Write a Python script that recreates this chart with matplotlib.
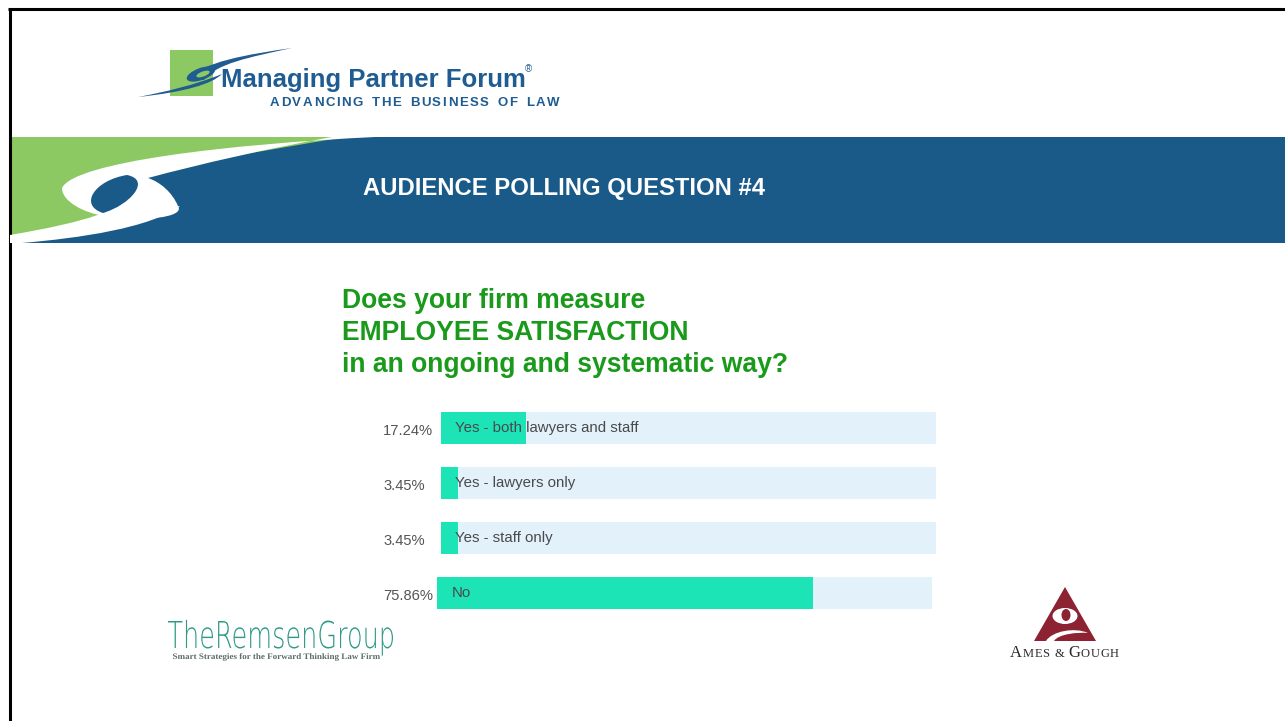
import numpy as np
import matplotlib
matplotlib.use("Agg")
import matplotlib.pyplot as plt
from matplotlib.path import Path
from matplotlib.patches import PathPatch, Rectangle, Ellipse
from matplotlib.textpath import TextPath
from matplotlib.font_manager import FontProperties
from matplotlib.transforms import Affine2D

plt.rcParams["font.family"] = ["Liberation Sans", "DejaVu Sans"]

W, H = 1285, 721

# poll results
answers = ["Yes - both lawyers and staff", "Yes - lawyers only", "Yes - staff only", "No"]
shares = [17.24, 3.45, 3.45, 75.86]

header = "AUDIENCE POLLING QUESTION #4"
question = ["Does your firm measure", "EMPLOYEE SATISFACTION", "in an ongoing and systematic way?"]

BLUE = "#195a89"
BAND_GREEN = "#8dc963"
LOGO_BLUE = "#1f5c92"
Q_GREEN = "#1a9a1a"
BAR = "#1ce4b6"
TRACK = "#e3f1fb"
MAROON = "#8c2232"
TEAL = "#2e9a86"


def shape(start, segs):
    """Closed path; a segment is a point (line) or three points (cubic)."""
    verts, codes = [start], [Path.MOVETO]
    for s in segs:
        if isinstance(s[0], tuple):
            verts += list(s)
            codes += [Path.CURVE4] * 3
        else:
            verts.append(s)
            codes.append(Path.LINETO)
    verts.append(start)
    codes.append(Path.CLOSEPOLY)
    return Path(verts, codes)


def fill(ax, path, color, z=1):
    ax.add_patch(PathPatch(path, fc=color, ec="none", lw=0, zorder=z))


def fit_text(ax, s, x0, x1, baseline, cap_h, prop, color, z=3):
    # text outline squeezed into a given width and cap height
    tp = TextPath((0, 0), s, size=100, prop=prop)
    ext = tp.get_extents()
    cap = TextPath((0, 0), "H", size=100, prop=prop).get_extents().height
    tr = Affine2D().translate(-ext.x0, 0).scale((x1 - x0) / ext.width, -cap_h / cap).translate(x0, baseline)
    fill(ax, tr.transform_path(tp), color, z)


def runs_text(ax, runs, x, y, renderer, tracking=0.0, gap=6, **kw):
    # left-to-right pieces of text with their own sizes and extra letter spacing
    for chunk, size in runs:
        for ch in chunk:
            if ch == " ":
                x += gap
                continue
            t = ax.text(x, y, ch, fontsize=size, va="baseline", ha="left", **kw)
            x += t.get_window_extent(renderer).width + tracking
    return x


fig = plt.figure(figsize=(12.85, 7.21), dpi=100)
renderer = fig.canvas.get_renderer()
bg = fig.add_axes([0, 0, 1, 1])
bg.set_xlim(0, W)
bg.set_ylim(H, 0)
bg.axis("off")

# frame
bg.plot([9.5, 9.5], [H, 8], color="black", lw=2.2, solid_capstyle="butt")
bg.plot([8, W], [8.5, 8.5], color="black", lw=2.2, solid_capstyle="butt")

# top logo
bg.add_patch(Rectangle((170, 50), 43, 46, fc=BAND_GREEN, ec="none"))
fill(bg, shape((138, 97), [((165, 92), (195, 85), (222, 74)), ((212, 84), (185, 92), (138, 97))]), LOGO_BLUE, 2)
fill(bg, shape((188, 80), [((200, 62), (250, 54), (292, 48)), ((250, 57), (215, 64), (204, 80))]), LOGO_BLUE, 2)
bg.add_patch(Ellipse((201, 74), 30, 12, angle=-20, fc=LOGO_BLUE, ec="none", zorder=2))
bg.add_patch(Ellipse((203, 74), 14, 5, angle=-20, fc=BAND_GREEN, ec="none", zorder=2))
bg.text(221, 86.5, "Managing Partner Forum", fontsize=18.5, weight="bold", color=LOGO_BLUE, va="baseline")
bg.text(525, 72, "®", fontsize=7, color=LOGO_BLUE, va="baseline")
runs_text(bg, [("ADVANCING THE BUSINESS OF LAW", 9.5)], 270, 106, renderer,
          tracking=1.6, gap=7, weight="bold", color=LOGO_BLUE)

# banner with the swoosh on the left
bg.add_patch(Rectangle((10, 137), W - 10, 106, fc=BLUE, ec="none", zorder=1))
fill(bg, shape((10, 137), [(345, 137), (140, 172), (100, 200), (108, 221),
                           ((80, 228), (40, 234), (10, 240))]), BAND_GREEN, 1.5)
fill(bg, shape((375, 137), [((230, 144), (74, 162), (62, 188)),
                            ((62, 202), (85, 213), (104, 216)),
                            ((140, 222), (186, 218), (178, 206)),
                            ((172, 192), (160, 182), (148, 178)),
                            ((200, 164), (270, 148), (332, 137))]), "white", 2)
fill(bg, shape((180, 206), [((150, 228), (80, 238), (22, 243)), (10, 243), (10, 235),
                            ((45, 229), (80, 222), (103, 213))]), "white", 2)
fill(bg, shape((127, 175), [((95, 180), (78, 205), (103, 213)),
                            ((130, 205), (152, 180), (127, 175))]), BLUE, 2.5)
bg.text(363, 195.5, header, fontsize=17.2, weight="bold", color="white", va="baseline", zorder=3)

# question
for i, line in enumerate(question):
    bg.text(342, 308 + 32 * i, line, fontsize=19.1, weight="bold", color=Q_GREEN, va="baseline")

# poll bars
ax = fig.add_axes([441 / W, 1 - 620.5 / H, 495 / W, 220 / H])
rows = np.arange(len(answers))
shift = np.array([0, 0, 0, -4]) * 100 / 495
bar_h = 32 / 55
ax.barh(rows, 100, left=shift, height=bar_h, color=TRACK, clip_on=False)
ax.barh(rows, shares, left=shift, height=bar_h, color=BAR, clip_on=False)
for r, (name, v) in enumerate(zip(answers, shares)):
    ax.text(shift[r] + 2.9, r, name, va="center", ha="left", fontsize=10.8, color="#4a4a4a")
    ax.text(-11.7, r + 0.06, f"{v:.2f}%", va="center", ha="left", fontsize=10.6,
            color="#555555", clip_on=False)
ax.set_xlim(0, 100)
ax.set_ylim(3.5, -0.5)
ax.axis("off")

# Remsen logo
fit_text(bg, "TheRemsenGroup", 168, 393, 648, 27, FontProperties(family="DejaVu Sans", weight="light"), TEAL)
fit_text(bg, "Smart Strategies for the Forward Thinking Law Firm", 173, 380, 659, 5.5,
         FontProperties(family="Liberation Serif", weight="bold"), "#5d6e66")

# Ames & Gough logo
fill(bg, shape((1065, 587), [(1096, 641), (1034, 641)]), MAROON, 2)
bg.add_patch(Ellipse((1065, 616), 25, 16, fc="white", ec="none", zorder=3))
bg.add_patch(Ellipse((1066, 615), 9, 12, fc=MAROON, ec="none", zorder=3))
fill(bg, shape((1046, 641), [((1052, 631), (1075, 627), (1088, 633)),
                             ((1078, 632), (1058, 634), (1054, 641))]), "white", 3)
runs_text(bg, [("A", 12), ("MES", 9), (" ", 9), ("&", 9), (" ", 9), ("G", 12), ("OUGH", 9)],
          1010, 657, renderer, tracking=0.6, gap=4, family=["Liberation Serif"], color="#2b2b2b")

fig.savefig("out.png", dpi=100)
